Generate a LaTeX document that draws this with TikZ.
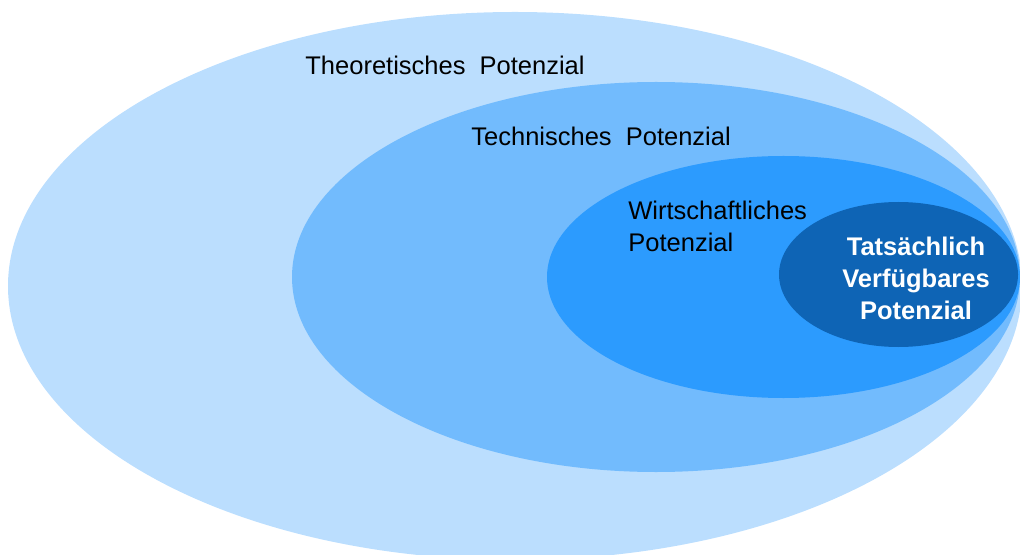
\documentclass[tikz,border=0pt]{standalone}
\usepackage{fontspec}
\setmainfont{Liberation Sans}
\usetikzlibrary{positioning}
\definecolor{potTheo}{RGB}{187,222,254}
\definecolor{potTech}{RGB}{114,187,253}
\definecolor{potWirt}{RGB}{44,155,254}
\definecolor{potReal}{RGB}{14,100,181}
\newcommand{\pot}{\fontsize{12.75}{16}\selectfont}

\begin{document}
\begin{tikzpicture}[x=0.5pt,y=-0.5pt]
  \useasboundingbox (0,0) rectangle (1020,555);
  \clip (0,0) rectangle (1020,555);
  % nested potentials, all touching at the right edge
  \fill[potTheo] (515,286) ellipse [x radius=507, y radius=274];
  \fill[potTech] (656,277) ellipse [x radius=364, y radius=195];
  \fill[potWirt] (783.5,277) ellipse [x radius=236.5, y radius=121];
  \fill[potReal] (898.5,274.5) ellipse [x radius=119.5, y radius=72.5];
  \node[anchor=base west, inner sep=0] (theo) at (305,75) {\pot Theoretisches\ \ Potenzial};
  \node[anchor=base west, inner sep=0] (tech) at (471,146) {\pot Technisches\ \ Potenzial};
  % base of a multi-line node is its last line
  \node[anchor=base west, inner sep=0, align=left, font=\pot] (wirt) at (628,252) {Wirtschaftliches\\Potenzial};
  \node[anchor=base, inner sep=0, align=center, text=white, font=\pot\bfseries] (real) at (916,319) {Tats\"achlich\\Verf\"ugbares\\Potenzial};
\end{tikzpicture}
\end{document}
